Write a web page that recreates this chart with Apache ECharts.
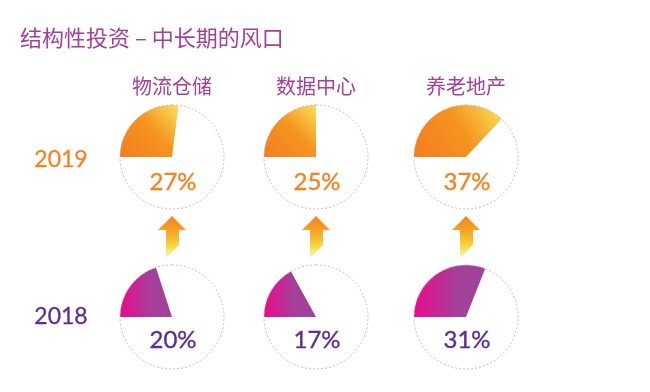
<!DOCTYPE html>
<html><head><meta charset="utf-8">
<script src="https://cdn.jsdelivr.net/npm/echarts@6/dist/echarts.min.js"></script>
<style>html,body{margin:0;padding:0;background:#fff}#c{width:650px;height:392px}</style>
</head><body><div id="c"></div>
<script>
const titleText = '结构性投资 – 中长期的风口';
const categories = ['物流仓储', '数据中心', '养老地产'];
const years = ['2019', '2018'];
const values2019 = [27, 25, 37];
const values2018 = [20, 17, 31];

const cx = [172, 316, 466];
const cy = [157, 317];
const R = 52;
const cjk = '"Noto Sans CJK SC", sans-serif';
const num = 'Lato, "Noto Sans", sans-serif';
const orange = '#f58220';
const purple = '#5f2d91';
const magentaTitle = '#a3409a';

function gradTop() {
  return new echarts.graphic.LinearGradient(0, 1, 1, 0, [
    { offset: 0, color: '#f47c20' },
    { offset: 0.55, color: '#f5951f' },
    { offset: 1, color: '#f8e25a' }
  ]);
}
function gradBottom() {
  return new echarts.graphic.LinearGradient(0, 0, 1, 0, [
    { offset: 0, color: '#ec0b8c' },
    { offset: 0.6, color: '#a3409a' },
    { offset: 1, color: '#9f439b' }
  ]);
}

const series = [];
const graphic = [];
[values2019, values2018].forEach((vals, row) => {
  vals.forEach((v, i) => {
    series.push({
      type: 'pie', center: [cx[i], cy[row]], radius: [0, R],
      startAngle: 180, clockwise: true, silent: true,
      label: { show: false }, labelLine: { show: false },
      emphasis: { disabled: true }, animation: false,
      data: [
        { value: v, itemStyle: { color: row === 0 ? gradTop() : gradBottom() } },
        { value: 100 - v, itemStyle: { color: 'rgba(0,0,0,0)' } }
      ]
    });
    series.push({
      type: 'pie', center: [cx[i], cy[row]], radius: [0, R],
      silent: true, label: { show: false }, labelLine: { show: false },
      emphasis: { disabled: true }, animation: false, z: 3,
      data: [{ value: 1, itemStyle: { color: 'rgba(0,0,0,0)', borderColor: '#bdbdbd', borderWidth: 1, borderType: [2, 2] } }]
    });
    const col = row === 0 ? orange : purple;
    graphic.push({
      type: 'text', x: cx[i] + 1, y: cy[row] + (row === 0 ? 25 : 23),
      style: { text: v + '%', fill: col, stroke: col, lineWidth: 0.35, font: '24px ' + num, align: 'center', verticalAlign: 'middle' }
    });
  });
});

categories.forEach((c, i) => {
  graphic.push({
    type: 'text', x: cx[i], y: 86,
    style: { text: c, fill: magentaTitle, font: '20px ' + cjk, align: 'center', verticalAlign: 'middle' }
  });
  const ax = cx[i], top = 216;
  graphic.push({
    type: 'polygon',
    shape: { points: [[ax, top], [ax + 14, top + 14], [ax + 7, top + 14], [ax + 7, top + 29], [ax - 6, top + 42], [ax - 6, top + 14], [ax - 14, top + 14]] },
    style: {
      fill: new echarts.graphic.LinearGradient(0, 0, 0, 1, [
        { offset: 0, color: '#f5841f' },
        { offset: 0.35, color: '#f6a223' },
        { offset: 0.7, color: '#f8d53a' },
        { offset: 1, color: '#fdf4c0' }
      ])
    }
  });
});

years.forEach((y, r) => {
  const col = r === 0 ? orange : purple;
  graphic.push({
    type: 'text', x: 61, y: cy[r] + (r === 0 ? 3 : 0),
    style: { text: y, fill: col, stroke: col, lineWidth: 0.3, font: '23px ' + num, align: 'center', verticalAlign: 'middle' }
  });
});

graphic.push({
  type: 'text', x: 20, y: 38,
  style: { text: titleText, fill: magentaTitle, font: '22px ' + cjk, align: 'left', verticalAlign: 'middle' }
});

const chart = echarts.init(document.getElementById('c'), null, { renderer: 'canvas' });
chart.setOption({ animation: false, backgroundColor: '#fff', series, graphic });
</script></body></html>
